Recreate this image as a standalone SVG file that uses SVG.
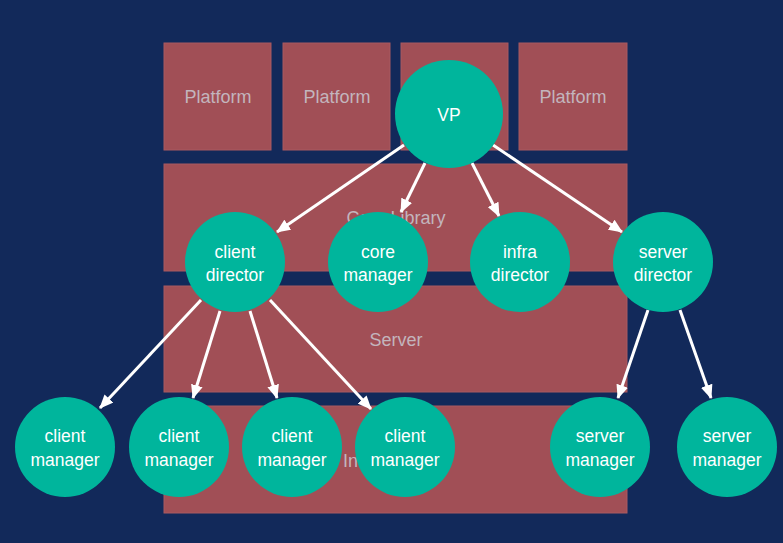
<svg xmlns="http://www.w3.org/2000/svg" width="783" height="543" viewBox="0 0 783 543">
<defs>
<style>
.layer{fill:#a14f56;stroke:#a85a60;stroke-width:1}
.ltxt{font-family:"Liberation Sans",Arial,sans-serif;font-size:18px;fill:#c3b5bd;text-anchor:middle}
.node{fill:#00b59c}
.ntxt{font-family:"Liberation Sans",Arial,sans-serif;font-size:17.5px;fill:#ffffff;text-anchor:middle}
.conn{stroke:#ffffff;stroke-width:3;fill:none;marker-end:url(#ah)}
</style>
<marker id="ah" markerUnits="userSpaceOnUse" markerWidth="14" markerHeight="12" viewBox="0 0 14 12" refX="13" refY="6" orient="auto">
<path d="M0,0 L14,6 L0,12 Z" fill="#ffffff"/>
</marker>
</defs>
<rect width="783" height="543" fill="#12295a"/>
<g id="layers">
<rect class="layer" x="164" y="43" width="107" height="107"/>
<rect class="layer" x="283" y="43" width="107" height="107"/>
<rect class="layer" x="401" y="43" width="107" height="107"/>
<rect class="layer" x="519" y="43" width="108" height="107"/>
<rect class="layer" x="164" y="164" width="463" height="107"/>
<rect class="layer" x="164" y="286" width="463" height="106"/>
<rect class="layer" x="164" y="406" width="463" height="107"/>
<text class="ltxt" x="218" y="103">Platform</text>
<text class="ltxt" x="337" y="103">Platform</text>
<text class="ltxt" x="573" y="103">Platform</text>
<text class="ltxt" x="396" y="224">Core Library</text>
<text class="ltxt" x="396" y="346">Server</text>
<text class="ltxt" x="396" y="467">Infrastructure</text>
</g>
<g id="connectors">
<line class="conn" x1="404" y1="145" x2="277" y2="232"/>
<line class="conn" x1="425" y1="163" x2="401" y2="212"/>
<line class="conn" x1="472" y1="163" x2="499" y2="216"/>
<line class="conn" x1="493" y1="145" x2="622" y2="232"/>
<line class="conn" x1="201" y1="300" x2="100" y2="408"/>
<line class="conn" x1="220" y1="311" x2="193" y2="398"/>
<line class="conn" x1="250" y1="311" x2="277" y2="398"/>
<line class="conn" x1="270" y1="300" x2="371" y2="409"/>
<line class="conn" x1="648" y1="310" x2="618" y2="398"/>
<line class="conn" x1="680" y1="310" x2="711" y2="398"/>
</g>
<g id="vp"><circle class="node" cx="449" cy="114" r="54"/><text class="ntxt" x="449" y="121">VP</text></g>
<g id="client-director"><circle class="node" cx="235" cy="262" r="50"/><text class="ntxt" x="235" y="258">client</text><text class="ntxt" x="235" y="281">director</text></g>
<g id="core-manager"><circle class="node" cx="378" cy="262" r="50"/><text class="ntxt" x="378" y="258">core</text><text class="ntxt" x="378" y="281">manager</text></g>
<g id="infra-director"><circle class="node" cx="520" cy="262" r="50"/><text class="ntxt" x="520" y="258">infra</text><text class="ntxt" x="520" y="281">director</text></g>
<g id="server-director"><circle class="node" cx="663" cy="262" r="50"/><text class="ntxt" x="663" y="258">server</text><text class="ntxt" x="663" y="281">director</text></g>
<g id="client-manager-1"><circle class="node" cx="65" cy="447" r="50"/><text class="ntxt" x="65" y="442">client</text><text class="ntxt" x="65" y="466">manager</text></g>
<g id="client-manager-2"><circle class="node" cx="179" cy="447" r="50"/><text class="ntxt" x="179" y="442">client</text><text class="ntxt" x="179" y="466">manager</text></g>
<g id="client-manager-3"><circle class="node" cx="292" cy="447" r="50"/><text class="ntxt" x="292" y="442">client</text><text class="ntxt" x="292" y="466">manager</text></g>
<g id="client-manager-4"><circle class="node" cx="405" cy="447" r="50"/><text class="ntxt" x="405" y="442">client</text><text class="ntxt" x="405" y="466">manager</text></g>
<g id="server-manager-1"><circle class="node" cx="600" cy="447" r="50"/><text class="ntxt" x="600" y="442">server</text><text class="ntxt" x="600" y="466">manager</text></g>
<g id="server-manager-2"><circle class="node" cx="727" cy="447" r="50"/><text class="ntxt" x="727" y="442">server</text><text class="ntxt" x="727" y="466">manager</text></g>
</svg>
